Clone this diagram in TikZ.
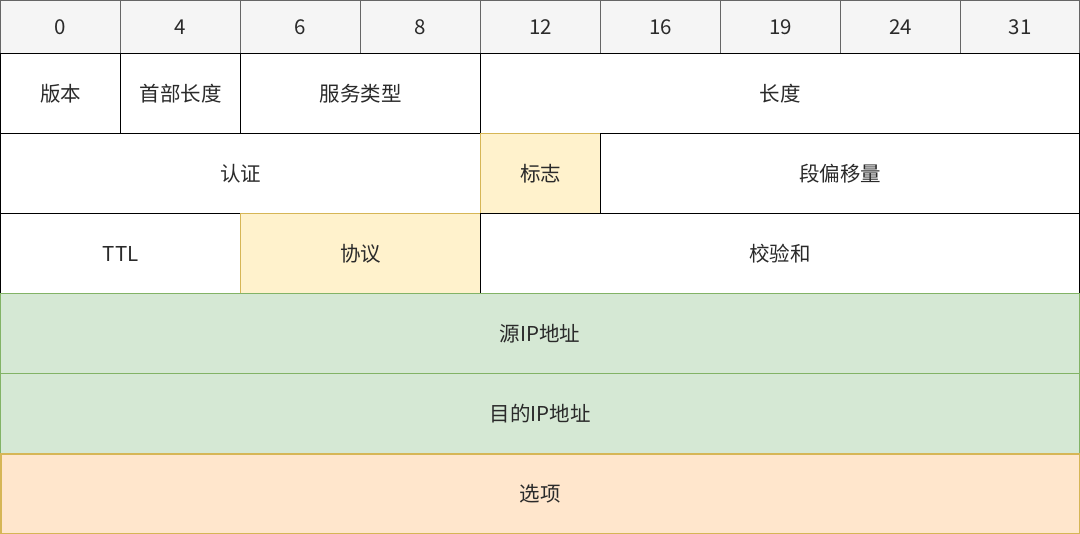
\documentclass[tikz,border=0pt]{standalone}
\usepackage{fontspec}
\setmainfont{Noto Sans CJK SC}
\definecolor{hdrfill}{HTML}{F5F5F5}
\definecolor{hdrline}{HTML}{666666}
\definecolor{yfill}{HTML}{FFF2CC}
\definecolor{yline}{HTML}{D6B656}
\definecolor{gfill}{HTML}{D5E8D4}
\definecolor{gline}{HTML}{82B366}
\definecolor{ofill}{HTML}{FFE6CC}
\definecolor{oline}{HTML}{D6B656}
\definecolor{txt}{HTML}{2A2A2A}
\begin{document}
\begin{tikzpicture}[x=1pt,y=-1pt,
  cell/.style={draw=black, fill=white, line width=1.3pt, anchor=north west, inner sep=0pt,
    text=txt, font=\fontsize{20.5}{24}\selectfont, minimum height=80pt},
  hdr/.style={cell, draw=hdrline, fill=hdrfill, minimum height=53pt, minimum width=120pt},
  yel/.style={cell, draw=yline, fill=yfill},
  grn/.style={cell, draw=gline, fill=gfill},
  org/.style={cell, draw=oline, fill=ofill, line width=1.6pt}]
\useasboundingbox (0,0) rectangle (1080,534);
% header
\node[hdr] (h0) at (0,0) {0};
\node[hdr] (h1) at (120,0) {4};
\node[hdr] (h2) at (240,0) {6};
\node[hdr] (h3) at (360,0) {8};
\node[hdr] (h4) at (480,0) {12};
\node[hdr] (h5) at (600,0) {16};
\node[hdr] (h6) at (720,0) {19};
\node[hdr] (h7) at (840,0) {24};
\node[hdr, minimum width=119pt] (h8) at (960,0) {31};
% row 1
\node[cell, minimum width=120pt] (ver) at (0,53) {版本};
\node[cell, minimum width=120pt] (hlen) at (120,53) {首部长度};
\node[cell, minimum width=240pt] (tos) at (240,53) {服务类型};
\node[cell, minimum width=599pt] (len) at (480,53) {长度};
% row 2
\node[cell, minimum width=480pt] (auth) at (0,133) {认证};
\node[yel, minimum width=120pt] (flag) at (480,133) {标志};
\node[cell, minimum width=479pt] (off) at (600,133) {段偏移量};
% row 3
\node[cell, minimum width=240pt] (ttl) at (0,213) {TTL};
\node[yel, minimum width=240pt] (proto) at (240,213) {协议};
\node[cell, minimum width=599pt] (chk) at (480,213) {校验和};
% addresses
\node[grn, minimum width=1079pt] (src) at (0,293) {源IP地址};
\node[grn, minimum width=1079pt] (dst) at (0,373) {目的IP地址};
\node[org, minimum width=1079pt, minimum height=80pt] (opt) at (0,453) {选项};
\end{tikzpicture}
\end{document}
